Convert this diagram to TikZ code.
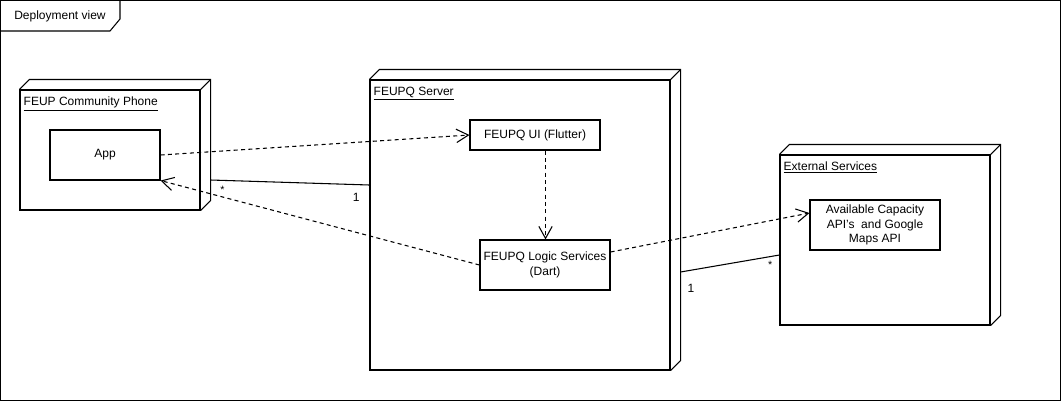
\documentclass[tikz,border=0pt]{standalone}
\usepackage{fontspec}
\setmainfont{Liberation Sans}
\usetikzlibrary{arrows.meta,positioning,calc}

\tikzset{
  box/.style={draw, rectangle, thick, align=center, inner sep=2pt},
  devnode/.style={draw, rectangle, thick},
  devlbl/.style={anchor=north west, inner sep=0pt},
  dep/.style={dashed, thick, dash pattern=on 3pt off 2.5pt, -{Straight Barb[length=9pt,width=10pt]}},
  assoc/.style={thick},
  mult/.style={inner sep=1pt, font=\fontsize{8}{9}\selectfont}
}

\begin{document}
\begin{tikzpicture}[x=0.75pt, y=-0.75pt, font=\fontsize{9}{11}\selectfont]
    \useasboundingbox (0,0) rectangle (1061,401);

    % Frame
    \draw[thick] (0.5,0.5) rectangle (1060.5,400.5);
    \draw[thick] (0.5,31) -- (110,31) -- (120,19) -- (120,0.5);
    \node (frametitle) at (60,16) {Deployment view};

    % Device nodes
    \node[devnode, minimum width=135pt, minimum height=90pt] (phone) at (110,150) {};
    \node[devnode, minimum width=225pt, minimum height=217.5pt] (server) at (520,225) {};
    \node[devnode, minimum width=157.5pt, minimum height=127.5pt] (ext) at (885,240) {};

    % 3D depth of device nodes
    \foreach \n in {phone,server,ext} {
        \draw[thick] (\n.north west) -- ++(10,-10) -| ($(\n.south east)+(10,-10)$) -- (\n.south east);
        \draw[thick] (\n.north east) -- ++(10,-10);
    }

    % Device labels
    \node[devlbl] (phonelbl) at ([shift={(4,7)}]phone.north west) {\underline{FEUP Community Phone}};
    \node[devlbl] (serverlbl) at ([shift={(4,7)}]server.north west) {\underline{FEUPQ Server}};
    \node[devlbl] (extlbl) at ([shift={(4,7)}]ext.north west) {\underline{External Services}};

    % Components
    \node[box, minimum width=82.5pt, minimum height=37.5pt] (app) at (105,155) {App};
    \node[box, minimum width=97.5pt, minimum height=22.5pt] (ui) at (535,135) {FEUPQ UI (Flutter)};
    \node[box, minimum width=97.5pt, minimum height=37.5pt] (logic) at (545,265) {FEUPQ Logic Services\\(Dart)};
    \node[box, minimum width=97.5pt, minimum height=37.5pt] (api) at (875,225) {Available Capacity\\API's\ \ and Google\\Maps API};

    % Dependencies
    \draw[dep] (app.east) -- (ui.west);
    \draw[dep] ([xshift=0.4pt]ui.south -| logic.north) -- ([xshift=0.4pt]logic.north);
    \draw[dep] (logic.west) -- (app.south east);
    \draw[dep] ([shift={(0,-13)}]logic.east) -- ([shift={(0,-12)}]api.west);

    % Associations
    \draw[assoc] ([shift={(10,30)}]phone.east) -- ([shift={(0,-40)}]server.west)
        node[mult, pos=0, below right=3pt and 6pt] {*}
        node[mult, pos=1, below left=5pt and 6pt, font=\fontsize{9}{11}\selectfont] {1};
    \draw[assoc] ([shift={(10,47)}]server.east) -- ([shift={(0,15)}]ext.west)
        node[mult, pos=0, below right=8pt and 4pt, font=\fontsize{9}{11}\selectfont] {1}
        node[mult, pos=1, below left=3pt and 4pt] {*};
\end{tikzpicture}
\end{document}
